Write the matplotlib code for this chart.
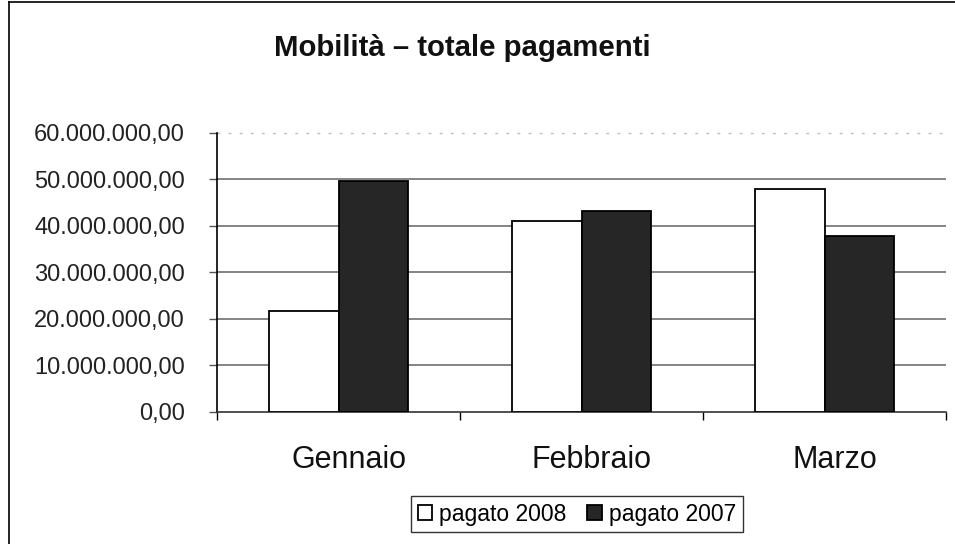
import matplotlib
matplotlib.use("Agg")
import matplotlib.pyplot as plt
from matplotlib.lines import Line2D
from matplotlib.ticker import FuncFormatter, FixedLocator
from matplotlib.transforms import ScaledTranslation
import numpy as np

categories = ["Gennaio", "Febbraio", "Marzo"]
pagato_2008 = [21700000, 41000000, 48000000]
pagato_2007 = [49700000, 43300000, 37900000]
series_labels = ["pagato 2008", "pagato 2007"]
yticks = [0, 10000000, 20000000, 30000000, 40000000, 50000000, 60000000]
title = "Mobilità – totale pagamenti"

plt.rcParams['font.family'] = ['Liberation Sans', 'DejaVu Sans']

fig = plt.figure(figsize=(9.55, 5.44), dpi=100)
W, H = 955, 544
left, right, bottom, top = 217, 946, 411.7, 133
ax = fig.add_axes([left / W, 1 - bottom / H, (right - left) / W, (bottom - top) / H])

x = np.arange(len(categories))
bw = 0.288
ax.bar(x - bw / 2, pagato_2008, width=bw, color="white", edgecolor="black",
       linewidth=1.3, label=series_labels[0], zorder=3)
ax.bar(x + bw / 2, pagato_2007, width=bw, color="#262626", edgecolor="black",
       linewidth=1.3, label=series_labels[1], zorder=3)

ax.set_xlim(-0.5, len(categories) - 0.5)
ax.set_ylim(0, yticks[-1])

# gridlines
for v in yticks[1:-1]:
    ax.axhline(v, color="#6f6f6f", linewidth=1.2, zorder=1)
ax.axhline(yticks[-1], color="#bdbdbd", linewidth=1.0, linestyle=(0, (2, 6)), zorder=1, clip_on=False)

def it_fmt(v, pos):
    s = f"{v:,.2f}"
    return s.replace(",", "X").replace(".", ",").replace("X", ".")

ax.yaxis.set_major_locator(FixedLocator(yticks))
ax.yaxis.set_major_formatter(FuncFormatter(it_fmt))
ax.tick_params(axis="y", direction="out", length=6, width=1.0, color="#555555",
               pad=17, labelsize=17, labelcolor="#222222")

ax.set_xticks(x)
ax.set_xticklabels(categories)
ax.set_xticks(np.arange(-0.5, len(categories)), minor=True)
ax.tick_params(axis="x", which="major", length=0, pad=24, labelsize=22, labelcolor="#111111")
ax.tick_params(axis="x", which="minor", direction="out", length=6, width=1.0, color="black")
shift = ScaledTranslation(10 / 100, 0, fig.dpi_scale_trans)
for lab in ax.get_xticklabels():
    lab.set_transform(lab.get_transform() + shift)

for s in ["top", "right"]:
    ax.spines[s].set_visible(False)
ax.spines["left"].set_color("black")
ax.spines["left"].set_linewidth(1.2)
ax.spines["bottom"].set_color("#333333")
ax.spines["bottom"].set_linewidth(1.2)

fig.text(462 / W, 1 - 48 / H, title, ha="center", va="center",
         fontsize=21.2, fontweight="bold", color="#111111")

leg = fig.legend(loc="center", bbox_to_anchor=(577 / W, 1 - 514 / H), ncol=2,
                 frameon=True, fancybox=False, shadow=False, fontsize=16.5,
                 handlelength=0.65, handleheight=0.65, handletextpad=0.3,
                 columnspacing=0.9, borderpad=0.3, borderaxespad=0)
leg.get_frame().set_edgecolor("black")
leg.get_frame().set_linewidth(1.0)

# outer chart border (left and top)
fig.add_artist(Line2D([9 / W, 9 / W], [0, 1 - 2 / H], transform=fig.transFigure,
                      color="black", linewidth=1.2))
fig.add_artist(Line2D([9 / W, 1], [1 - 2 / H, 1 - 2 / H], transform=fig.transFigure,
                      color="black", linewidth=1.2))

fig.savefig("out.png", dpi=100)
